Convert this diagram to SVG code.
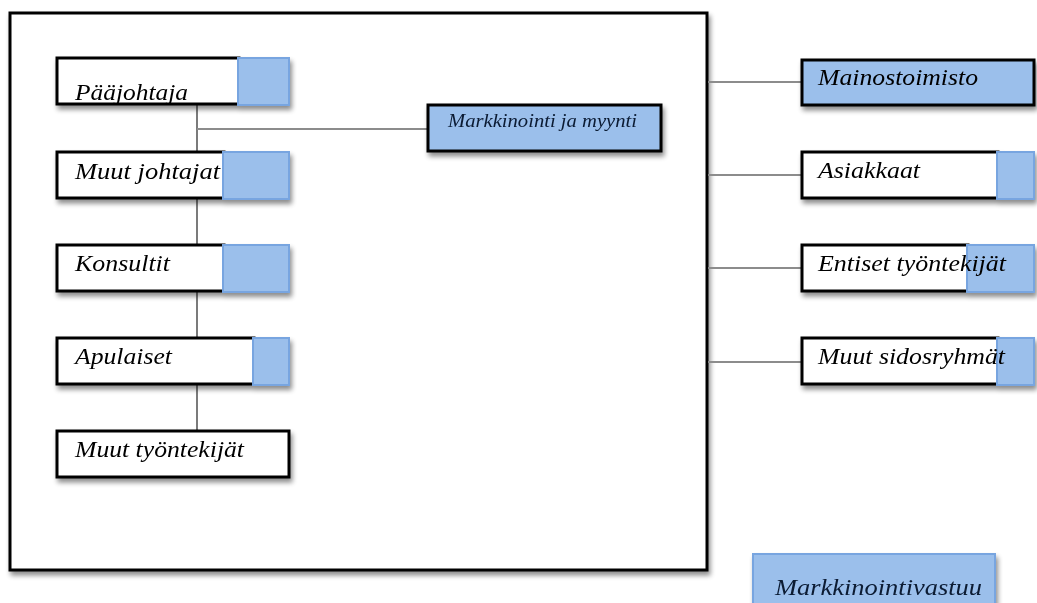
<svg xmlns="http://www.w3.org/2000/svg" width="1037" height="603" viewBox="0 0 1037 603">
  <defs>
    <filter id="shadow" x="-10%" y="-20%" width="130%" height="160%">
      <feGaussianBlur in="SourceAlpha" stdDeviation="2.5"/>
      <feOffset dx="2" dy="4" result="b"/>
      <feComponentTransfer><feFuncA type="linear" slope="0.45"/></feComponentTransfer>
      <feMerge><feMergeNode/><feMergeNode in="SourceGraphic"/></feMerge>
    </filter>
  </defs>
  <style>
    .frame { fill: #ffffff; stroke: #000000; stroke-width: 3; }
    .box { fill: #ffffff; stroke: #000000; stroke-width: 3; }
    .bluebox { fill: #9bbfeb; stroke: #000000; stroke-width: 3; }
    .tab { fill: #9bbfeb; stroke: #78a5e0; stroke-width: 2; }
    .lbl { font-family: "Liberation Serif", "Times New Roman", serif; font-style: italic; font-size: 24px; fill: #000000; }
    .small { font-size: 18px; fill: #0a1a33; }
    .link { stroke: #8c8c8c; stroke-width: 2; fill: none; }
    .trunk { stroke: #333333; stroke-width: 1.3; fill: none; }
  </style>

  <!-- organisation frame -->
  <rect id="frame" class="frame" x="10" y="13" width="697" height="557" filter="url(#shadow)"/>

  <!-- connectors -->
  <g id="connectors">
    <line class="trunk" x1="197" y1="105" x2="197" y2="431"/>
    <line class="link" x1="197" y1="129" x2="428" y2="129"/>
    <line class="link" x1="708" y1="82" x2="802" y2="82"/>
    <line class="link" x1="708" y1="175" x2="802" y2="175"/>
    <line class="link" x1="708" y1="268" x2="802" y2="268"/>
    <line class="link" x1="708" y1="362" x2="802" y2="362"/>
  </g>

  <!-- internal roles -->
  <g id="paajohtaja" filter="url(#shadow)">
    <rect class="box" x="57" y="58" width="182" height="46"/>
    <rect class="tab" x="238" y="58" width="51" height="47"/>
    <text class="lbl" x="75" y="100" textLength="113" lengthAdjust="spacingAndGlyphs">Pääjohtaja</text>
  </g>
  <g id="muut-johtajat" filter="url(#shadow)">
    <rect class="box" x="57" y="152" width="167" height="46"/>
    <rect class="tab" x="223" y="152" width="66" height="47"/>
    <text class="lbl" x="75" y="179" textLength="145" lengthAdjust="spacingAndGlyphs">Muut johtajat</text>
  </g>
  <g id="konsultit" filter="url(#shadow)">
    <rect class="box" x="57" y="245" width="167" height="46"/>
    <rect class="tab" x="223" y="245" width="66" height="47"/>
    <text class="lbl" x="75" y="271" textLength="95" lengthAdjust="spacingAndGlyphs">Konsultit</text>
  </g>
  <g id="apulaiset" filter="url(#shadow)">
    <rect class="box" x="57" y="338" width="197" height="46"/>
    <rect class="tab" x="253" y="338" width="36" height="47"/>
    <text class="lbl" x="75" y="364" textLength="97" lengthAdjust="spacingAndGlyphs">Apulaiset</text>
  </g>
  <g id="muut-tyontekijat" filter="url(#shadow)">
    <rect class="box" x="57" y="431" width="232" height="46"/>
    <text class="lbl" x="75" y="457" textLength="169" lengthAdjust="spacingAndGlyphs">Muut työntekijät</text>
  </g>

  <g id="markkinointi-ja-myynti" filter="url(#shadow)">
    <rect class="bluebox" x="428" y="105" width="233" height="46"/>
    <text class="lbl small" x="448" y="127" textLength="189" lengthAdjust="spacingAndGlyphs">Markkinointi ja myynti</text>
  </g>

  <!-- stakeholders -->
  <g id="mainostoimisto" filter="url(#shadow)">
    <rect class="bluebox" x="802" y="60" width="232" height="45"/>
    <text class="lbl" x="818" y="85" textLength="160" lengthAdjust="spacingAndGlyphs">Mainostoimisto</text>
  </g>
  <g id="asiakkaat" filter="url(#shadow)">
    <rect class="box" x="802" y="152" width="196" height="46"/>
    <rect class="tab" x="997" y="152" width="37" height="47"/>
    <text class="lbl" x="818" y="178" textLength="102" lengthAdjust="spacingAndGlyphs">Asiakkaat</text>
  </g>
  <g id="entiset-tyontekijat" filter="url(#shadow)">
    <rect class="box" x="802" y="245" width="166" height="46"/>
    <rect class="tab" x="967" y="245" width="67" height="47"/>
    <text class="lbl" x="818" y="271" textLength="188" lengthAdjust="spacingAndGlyphs">Entiset työntekijät</text>
  </g>
  <g id="muut-sidosryhmat" filter="url(#shadow)">
    <rect class="box" x="802" y="338" width="196" height="46"/>
    <rect class="tab" x="997" y="338" width="37" height="47"/>
    <text class="lbl" x="818" y="364" textLength="187" lengthAdjust="spacingAndGlyphs">Muut sidosryhmät</text>
  </g>

  <!-- legend -->
  <g id="markkinointivastuu" filter="url(#shadow)">
    <rect class="tab" x="753" y="554" width="242" height="60"/>
    <text class="lbl" x="775" y="595" textLength="207" lengthAdjust="spacingAndGlyphs" style="fill:#0a1a33">Markkinointivastuu</text>
  </g>
</svg>
